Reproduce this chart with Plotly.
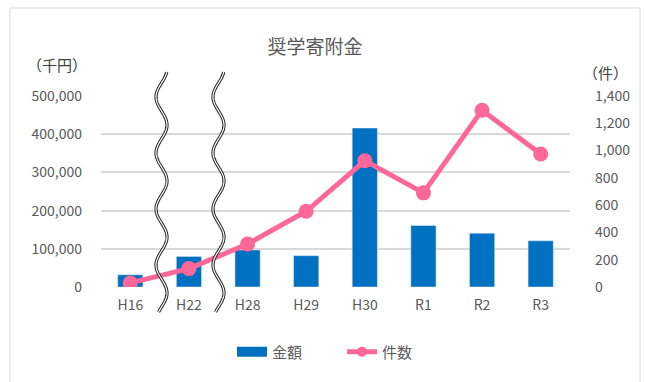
import numpy as np
import plotly.graph_objects as go

categories = ["H16", "H22", "H28", "H29", "H30", "R1", "R2", "R3"]
amount = [32000, 80000, 97000, 82000, 416000, 161000, 141000, 121000]  # 金額 (千円)
counts = [30, 135, 315, 555, 925, 690, 1295, 975]  # 件数

W, H = 645, 382
L, R, T, B = 101, 570, 96, 287  # plot area in pixels

def px(x):
    return (x - L) / (R - L)

def py(y):
    return (B - y) / (B - T)

BLUE = "#0070C0"
PINK = "#FF6699"
GRAY = "#595959"
FONT = "Noto Sans CJK JP"

fig = go.Figure()
fig.add_trace(go.Bar(x=categories, y=amount, name="金額", marker_color=BLUE,
                     showlegend=False, yaxis="y"))
fig.add_trace(go.Scatter(x=categories, y=counts, name="件数", mode="lines+markers",
                         line=dict(color=PINK, width=5), showlegend=False,
                         marker=dict(color=PINK, size=15), yaxis="y2"))
# legend entries
fig.add_trace(go.Scatter(x=[None], y=[None], mode="lines", name="金額",
                         line=dict(color=BLUE, width=10), yaxis="y"))
fig.add_trace(go.Scatter(x=[None], y=[None], mode="lines+markers", name="件数",
                         line=dict(color=PINK, width=5),
                         marker=dict(color=PINK, size=10), yaxis="y2"))

# wavy break marks (decoration)
shapes = []
for cx in (161.5, 218.5):
    ys = np.linspace(72, 312, 300)
    xs = cx - 5.5 * np.sin((ys - 97 + 14) / 56 * 2 * np.pi)
    path = "M " + " L ".join(f"{px(a):.5f},{py(b):.5f}" for a, b in zip(xs, ys))
    shapes.append(dict(type="path", path=path, xref="paper", yref="paper",
                       line=dict(color="#222222", width=3.2), layer="above"))
    shapes.append(dict(type="path", path=path, xref="paper", yref="paper",
                       line=dict(color="white", width=1.2), layer="above"))

# chart border
shapes.insert(0, dict(type="rect", xref="paper", yref="paper",
                      x0=px(10), x1=px(640), y0=py(390), y1=py(8),
                      line=dict(color="#D9D9D9", width=1), layer="below"))

fig.update_layout(
    width=W, height=H,
    margin=dict(l=L, r=W - R, t=T, b=H - B),
    paper_bgcolor="white", plot_bgcolor="white",
    font=dict(family=FONT, color=GRAY, size=14),
    title=dict(text="奨学寄附金", x=px(330), xanchor="center", y=1 - 47 / H,
               yanchor="middle", font=dict(size=19, color=GRAY, family=FONT)),
    bargap=0.57,
    xaxis=dict(type="category", range=[-0.5, 7.5], showgrid=False, zeroline=False,
               showline=False, ticks="", tickfont=dict(size=14, color=GRAY),
               ticklabelstandoff=8),
    yaxis=dict(range=[0, 500000], dtick=100000, tickformat=",", showgrid=True,
               gridcolor="#D9D9D9", gridwidth=1.5, zeroline=False, showline=False,
               ticks="", tickfont=dict(size=14, color=GRAY), ticklabelstandoff=18),
    yaxis2=dict(range=[0, 1400], dtick=200, tickformat=",", overlaying="y",
                side="right", showgrid=False, zeroline=False, showline=False,
                ticks="", tickfont=dict(size=14, color=GRAY), ticklabelstandoff=24),
    legend=dict(orientation="h", x=px(342), xanchor="center", y=py(352),
                yanchor="middle", font=dict(size=15, color=GRAY),
                entrywidth=65, entrywidthmode="pixels"),
    shapes=shapes,
    annotations=[
        dict(text="（千円）", xref="paper", yref="paper", x=px(57), y=py(64),
             xanchor="center", yanchor="middle", showarrow=False,
             font=dict(size=15, color="#404040")),
        dict(text="（件）", xref="paper", yref="paper", x=px(605), y=py(72),
             xanchor="center", yanchor="middle", showarrow=False,
             font=dict(size=15, color="#404040")),
    ],
)

fig.write_html("out.html")
